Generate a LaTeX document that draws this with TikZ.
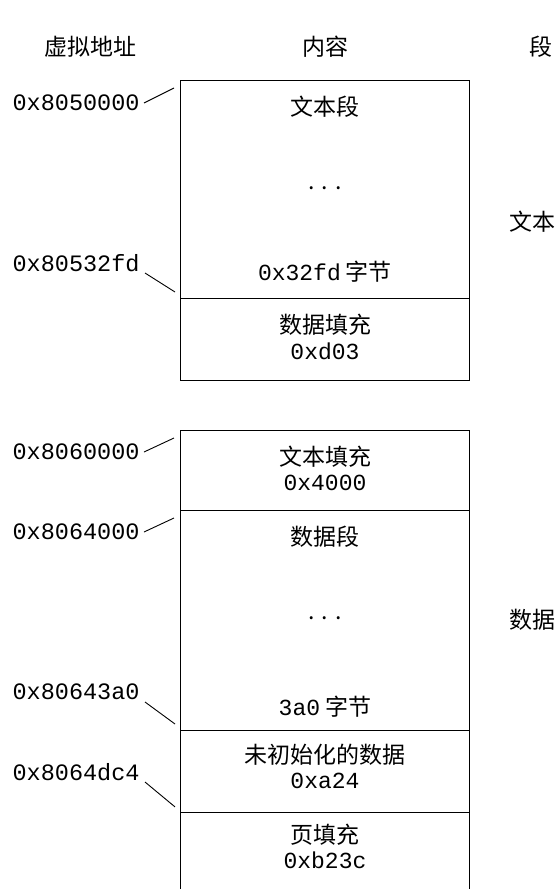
\documentclass[tikz,border=0pt]{standalone}
\usepackage{fontspec}
\setmainfont{Noto Sans CJK SC}
\setmonofont{Liberation Mono}
\usetikzlibrary{calc}
\tikzset{seg/.style={draw,minimum width=289,minimum height=#1,anchor=north west,inner sep=0pt},
  addr/.style={font=\fontsize{23.5}{26}\ttfamily,anchor=east,inner sep=0pt}}
\begin{document}
\begin{tikzpicture}[x=1pt,y=-1pt,line width=0.9pt,font=\fontsize{23}{26}\selectfont]
\useasboundingbox (0,0) rectangle (558,889);

% column heads
\node (hva) at (90,47) {虚拟地址};
\node (hct) at (325,47) {内容};
\node (hsg) at (541,47) {段};

% segments
\node[anchor=east,inner xsep=1pt] (stx) at (557,222) {文本};
\node[anchor=east,inner xsep=1pt] (sdt) at (557,620) {数据};

% memory blocks
\node[seg=218] (text) at (180,80) {};
\node[seg=82] (dpad) at (180,298) {};
\node[seg=80] (tpad) at (180,430) {};
\node[seg=220] (data) at (180,510) {};
\node[seg=82] (bss) at (180,730) {};
\draw (bss.south west)--++(0,77);
\draw (bss.south east)--++(0,77);

\node at (325,107) {文本段};
\node at (325,188) {. . .};
\node at (325,272) {\texttt{0x32fd} 字节};
\node at (325,325) {数据填充};
\node at (325,351) {\texttt{0xd03}};
\node at (325,457) {文本填充};
\node at (325,483) {\texttt{0x4000}};
\node at (325,537) {数据段};
\node at (325,618) {. . .};
\node at (325,707) {\texttt{3a0} 字节};
\node at (325,755) {未初始化的数据};
\node at (325,781) {\texttt{0xa24}};
\node at (325,835) {页填充};
\node at (325,860) {\texttt{0xb23c}};

% addresses
\node[addr] (a1) at (140,103) {0x8050000};
\node[addr] (a2) at (140,263) {0x80532fd};
\node[addr] (a3) at (140,452) {0x8060000};
\node[addr] (a4) at (140,532) {0x8064000};
\node[addr] (a5) at (140,692) {0x80643a0};
\node[addr] (a6) at (140,772) {0x8064dc4};

\draw ($(a1.east)+(4,0)$)--($(text.north west)+(-6,8)$);
\draw ($(a2.east)+(5,10)$)--($(dpad.north west)+(-5,-6)$);
\draw ($(a3.east)+(4,0)$)--($(tpad.north west)+(-6,8)$);
\draw ($(a4.east)+(4,0)$)--($(data.north west)+(-6,8)$);
\draw ($(a5.east)+(5,10)$)--($(bss.north west)+(-5,-6)$);
\draw ($(a6.east)+(5,10)$)--($(bss.south west)+(-5,-6)$);

\end{tikzpicture}
\end{document}
